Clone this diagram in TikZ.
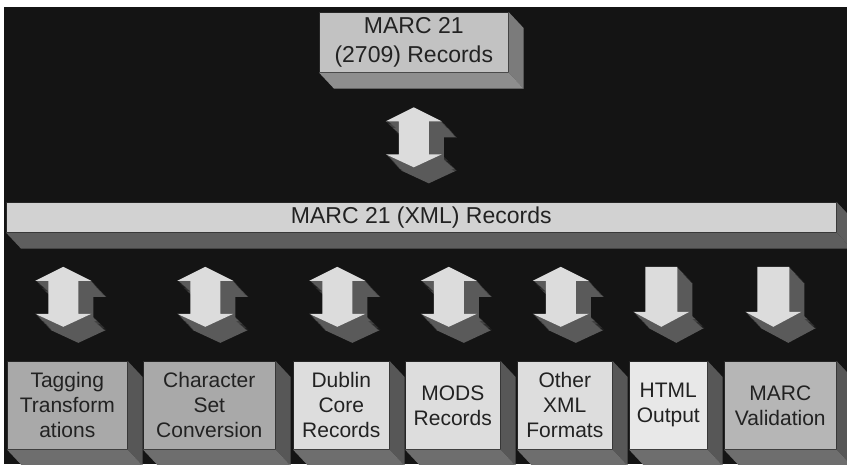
\documentclass[tikz,border=0pt]{standalone}
\usepackage{fontspec}
\setmainfont{Liberation Sans}
\usepackage{tikz}
\usetikzlibrary{calc}
\definecolor{bgBlack}{HTML}{141414}
\definecolor{txtDark}{HTML}{222222}
\definecolor{arrFace}{HTML}{DCDCDC}
\definecolor{arrSide}{HTML}{5A5A5A}
\definecolor{topFace}{HTML}{C2C2C2}
\definecolor{topSideR}{HTML}{7B7B7B}
\definecolor{topSideB}{HTML}{8E8E8E}
\definecolor{barFace}{HTML}{D2D2D2}
\definecolor{barSideB}{HTML}{5E5E5E}
\definecolor{midFace}{HTML}{A9A9A9}
\definecolor{lightFace}{HTML}{DDDDDD}
\definecolor{paleFace}{HTML}{E8E8E8}
\definecolor{valFace}{HTML}{B6B6B6}
\definecolor{boxSideR}{HTML}{575757}
\definecolor{boxSideB}{HTML}{6E6E6E}

\begin{document}
\begin{tikzpicture}[x=1pt, y=-1pt,
    box/.style={draw=black!85, line width=0.6pt, text=txtDark, align=center,
                inner sep=0pt, anchor=north west},
    bigtxt/.style={font=\fontsize{23}{29}\selectfont},
    smalltxt/.style={font=\fontsize{21}{25}\selectfont},
    lowbox/.style={box, smalltxt, minimum height=88pt},
    dblarr/.pic={
      \foreach \k in {15,...,0}{
        \ifnum\k=0 \def\c{arrFace}\else\def\c{arrSide}\fi
        \fill[\c, shift={(\k,1.07*\k)}] (0,-30) -- (28,-16) -- (15,-16) -- (15,17) -- (28,17)
          -- (0,30) -- (-28,17) -- (-15,17) -- (-15,-16) -- (-28,-16) -- cycle;}},
    downarr/.pic={
      \foreach \k in {15,...,0}{
        \ifnum\k=0 \def\c{arrFace}\else\def\c{arrSide}\fi
        \fill[\c, shift={(\k,1.07*\k)}] (-16,-30) -- (16,-30) -- (16,15) -- (28,15)
          -- (0,30) -- (-28,15) -- (-16,15) -- cycle;}}]
  \useasboundingbox (0,0) rectangle (847,464);
  \clip (0,0) rectangle (847,464);
  \fill[white] (0,0) rectangle (847,464);
  \fill[bgBlack] (4,7) rectangle (847,464);

  % boxes
  \node[box, bigtxt, fill=topFace, minimum width=189pt, minimum height=60pt] (marcRec) at (319,12) {MARC 21\\(2709) Records};
  \node[box, bigtxt, fill=barFace, minimum width=830pt, minimum height=30pt] (xmlRec) at (6,202) {MARC 21 (XML) Records};
  \node[lowbox, fill=midFace, minimum width=120pt] (tagging) at (7,361) {Tagging\\Transform\\ations};
  \node[lowbox, fill=midFace, minimum width=132pt] (charSet) at (143,361) {Character\\Set\\Conversion};
  \node[lowbox, fill=lightFace, minimum width=96pt] (dublin) at (293,361) {Dublin\\Core\\Records};
  \node[lowbox, fill=lightFace, minimum width=95pt] (mods) at (405,361) {MODS\\Records};
  \node[lowbox, fill=lightFace, minimum width=95pt] (otherXml) at (517,361) {Other\\XML\\Formats};
  \node[lowbox, fill=paleFace, minimum width=78pt] (html) at (629,361) {HTML\\Output};
  \node[lowbox, fill=valFace, minimum width=112pt] (validation) at (724,361) {MARC\\Validation};

  % 3d sides
  \foreach \n/\r/\b in {marcRec/topSideR/topSideB, xmlRec/barSideB/barSideB,
      tagging/boxSideR/boxSideB, charSet/boxSideR/boxSideB, dublin/boxSideR/boxSideB,
      mods/boxSideR/boxSideB, otherXml/boxSideR/boxSideB, html/boxSideR/boxSideB,
      validation/boxSideR/boxSideB}{
    \fill[\r] (\n.north east) -- ++(15,16) -- ($(\n.south east)+(15,16)$) -- (\n.south east) -- cycle;
    \fill[\b] (\n.south west) -- ++(15,16) -- ($(\n.south east)+(15,16)$) -- (\n.south east) -- cycle;}

  % block arrows
  \pic at ($(marcRec.south)!0.5!(xmlRec.north -| marcRec.south)$) {dblarr};
  \foreach \n in {tagging, charSet, dublin, mods, otherXml}
    \pic at ($($(\n.north)!0.5!(xmlRec.south -| \n.north)$)+(-4,0)$) {dblarr};
  \foreach \n in {html, validation}
    \pic at ($($(\n.north)!0.5!(xmlRec.south -| \n.north)$)+(-7,0)$) {downarr};
\end{tikzpicture}
\end{document}
